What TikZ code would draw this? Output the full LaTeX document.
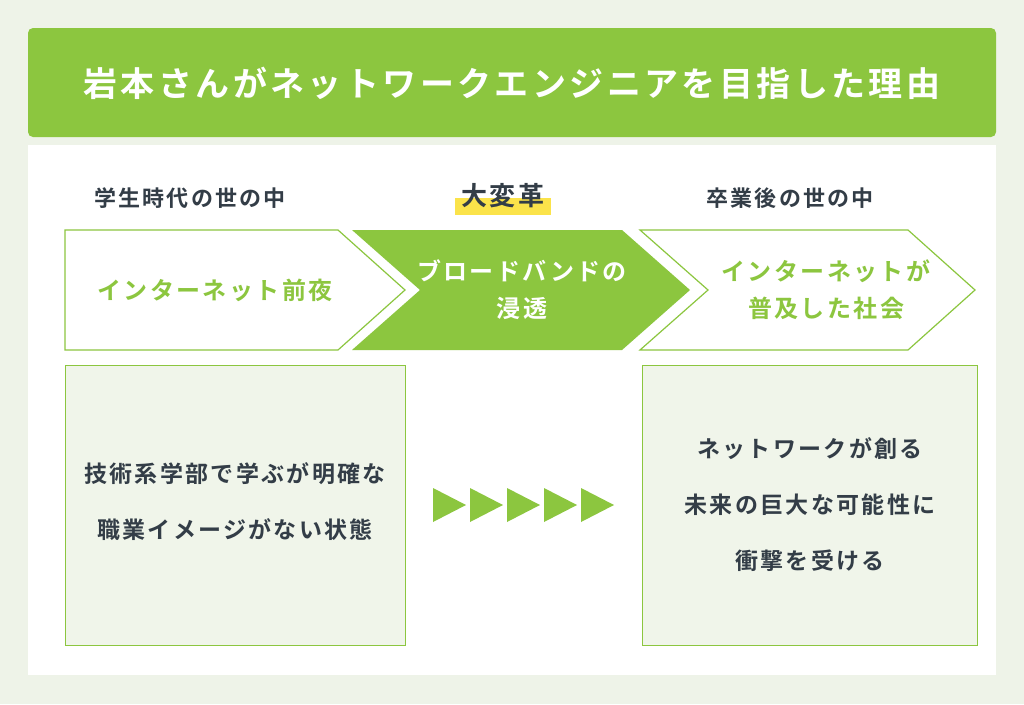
\documentclass[tikz,border=0pt]{standalone}
\usepackage{fontspec}
\setmainfont{Noto Sans CJK JP}[BoldFont={Noto Sans CJK JP Bold},BoldFeatures={LetterSpace=10}]
\definecolor{bg}{HTML}{EEF3E8}
\definecolor{grn}{HTML}{8CC63F}
\definecolor{lgrn}{HTML}{F0F5EA}
\definecolor{txt}{HTML}{333D47}
\definecolor{yel}{HTML}{FBE34A}
\begin{document}
\begin{tikzpicture}[x=1pt,y=-1pt,
  lbl/.style={font=\fontsize{22}{26}\selectfont\bfseries,text=txt},
  chtxt/.style={font=\fontsize{24}{37}\selectfont\bfseries,align=center},
  body/.style={font=\fontsize{23}{56}\selectfont\bfseries,text=txt,align=center},
  tri/.style={fill=grn}]
\fill[bg] (0,0) rectangle (1024,704);
\useasboundingbox (0,0) rectangle (1024,704);
\fill[grn,rounded corners=5pt] (28,28) rectangle (996,137);
\node (title) at (512,83) [text=white,font=\fontsize{34}{40}\selectfont\bfseries] {岩本さんがネットワークエンジニアを目指した理由};
\fill[white] (28,145) rectangle (996,675);
% labels
\node[lbl] (l1) at (190,198) {学生時代の世の中};
\fill[yel] (455,198) rectangle (551,215);
\node[font=\fontsize{26}{30}\selectfont\bfseries,text=txt] (l2) at (503,196) {大変革};
\node[lbl] (l3) at (790,198) {卒業後の世の中};
% chevrons
\draw[grn,line width=1.2pt,fill=white] (65,230) -- (338,230) -- (405,290) -- (338,350) -- (65,350) -- cycle;
\fill[grn] (352,230) -- (622,230) -- (690,290) -- (622,350) -- (352,350) -- (420,290) -- cycle;
\draw[grn,line width=1.2pt,fill=white] (640,230) -- (908,230) -- (975,290) -- (908,350) -- (640,350) -- (708,290) -- cycle;
\node[chtxt,text=grn] (c1) at (215,290) {インターネット前夜};
\node[chtxt,text=white] (c2) at (522,290) {ブロードバンドの\\浸透};
\node[chtxt,text=grn] (c3) at (826,290) {インターネットが\\普及した社会};
% boxes
\draw[grn,line width=1pt,fill=lgrn] (65,365) rectangle (405,645);
\draw[grn,line width=1pt,fill=lgrn] (642,365) rectangle (977,645);
\node[body] (b1) at (235,502) {技術系学部で学ぶが明確な\\職業イメージがない状態};
\node[body] (b2) at (810,505) {ネットワークが創る\\未来の巨大な可能性に\\衝撃を受ける};
% triangles
\foreach \i in {0,...,4}{
  \fill[grn] (433+37*\i,488) -- (466+37*\i,505) -- (433+37*\i,522) -- cycle;
}
\end{tikzpicture}
\end{document}
